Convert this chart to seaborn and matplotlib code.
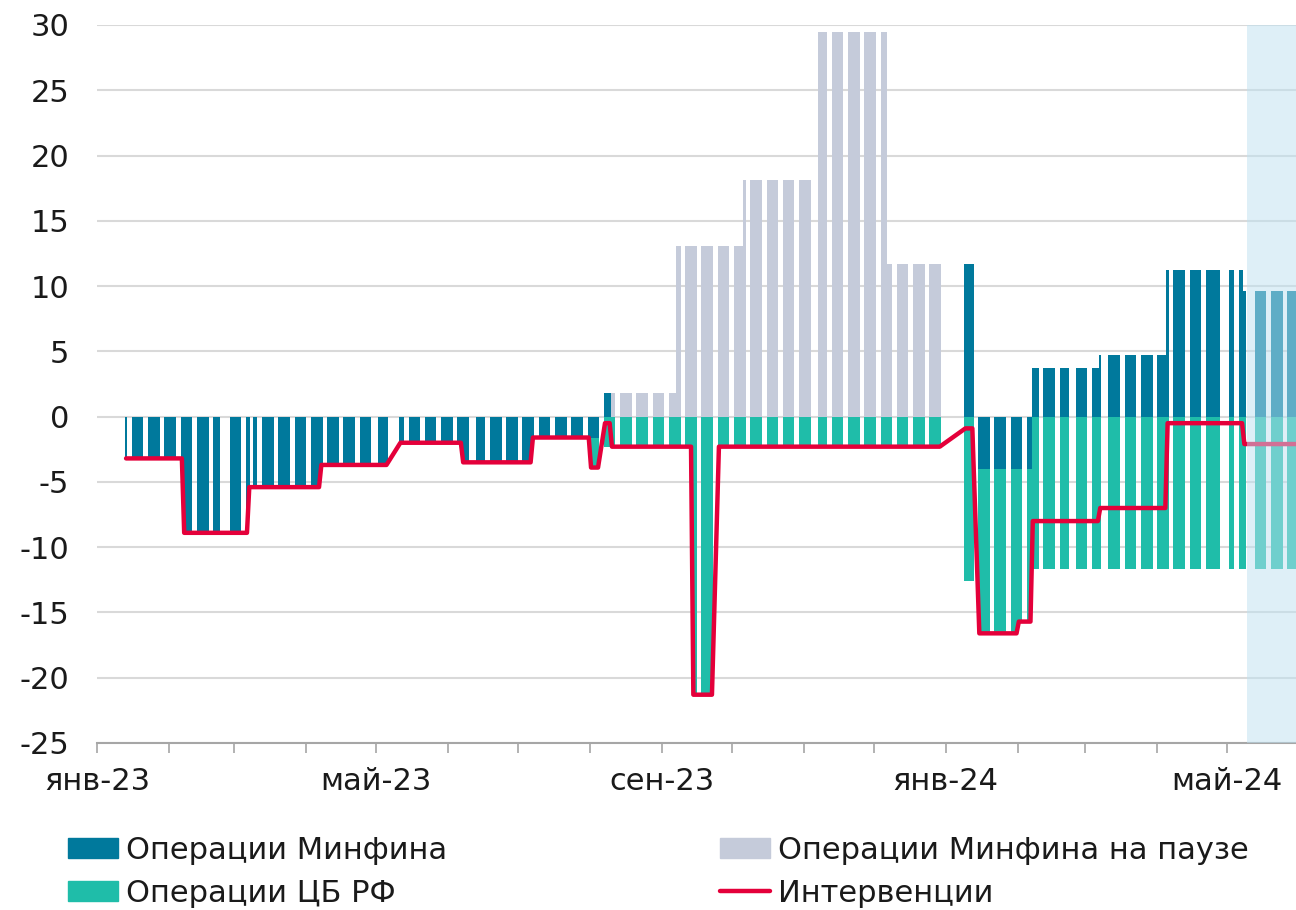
import numpy as np
import pandas as pd
import matplotlib
matplotlib.use("Agg")
import matplotlib.pyplot as plt
import matplotlib.dates as mdates
from matplotlib.patches import Patch
from matplotlib.lines import Line2D
import seaborn as sns

# periods with constant daily values (bn rub per day)
period_start = ["2023-01-13", "2023-02-07", "2023-03-07", "2023-04-07", "2023-05-11",
                "2023-06-07", "2023-07-07", "2023-08-01", "2023-08-07", "2023-08-10",
                "2023-09-07", "2023-09-14", "2023-09-25", "2023-10-06", "2023-11-07",
                "2023-12-07", "2024-01-09", "2024-01-15", "2024-02-01", "2024-02-07",
                "2024-03-07", "2024-04-05", "2024-05-08"]
period_end = ["2023-02-06", "2023-03-06", "2023-04-06", "2023-05-05", "2023-06-06",
              "2023-07-06", "2023-07-31", "2023-08-04", "2023-08-09", "2023-09-06",
              "2023-09-13", "2023-09-22", "2023-10-05", "2023-11-06", "2023-12-06",
              "2023-12-29", "2024-01-12", "2024-01-31", "2024-02-06", "2024-03-06",
              "2024-04-04", "2024-05-07", "2024-05-31"]
minfin = [-3.2, -8.9, -5.4, -3.7, -2.0, -3.5, -1.6, -1.6, 1.8, 0, 0, 0, 0, 0, 0, 0,
          11.7, -4.0, -4.0, 3.7, 4.7, 11.2, 9.6]
minfin_pause = [0, 0, 0, 0, 0, 0, 0, 0, 0, 1.8, 13.1, 13.1, 13.1, 18.1, 29.5, 11.7,
                0, 0, 0, 0, 0, 0, 0]
cbr = [0, 0, 0, 0, 0, 0, 0, -2.3, -2.3, -2.3, -2.3, -21.3, -2.3, -2.3, -2.3, -2.3,
       -12.6, -12.6, -11.7, -11.7, -11.7, -11.7, -11.7]
interventions = [-3.2, -8.9, -5.4, -3.7, -2.0, -3.5, -1.6, -3.9, -0.5, -2.3, -2.3, -21.3,
                 -2.3, -2.3, -2.3, -2.3, -0.9, -16.6, -15.7, -8.0, -7.0, -0.5, -2.1]

holidays = ["2023-02-23", "2023-02-24", "2023-03-08", "2023-05-01", "2023-05-08",
            "2023-05-09", "2023-06-12", "2023-11-06", "2024-01-01", "2024-01-02",
            "2024-01-03", "2024-01-04", "2024-01-05", "2024-01-08", "2024-02-23",
            "2024-03-08", "2024-04-29", "2024-04-30", "2024-05-01", "2024-05-09",
            "2024-05-10"]
extra_workdays = ["2024-04-27"]

forecast_start = "2024-05-09 14:00"
x_start = "2023-01-01"
x_end = "2024-05-30 17:00"

month_names = ["янв", "фев", "мар", "апр", "май", "июн",
               "июл", "авг", "сен", "окт", "ноя", "дек"]
labels = ["Операции Минфина", "Операции ЦБ РФ", "Операции Минфина на паузе", "Интервенции"]

C_MINFIN = "#00799C"
C_PAUSE = "#C5CBDA"
C_CBR = "#1FBDA9"
C_LINE = "#E4003A"

# expand periods to trading days
rows = []
for s, e, m, p, c, l in zip(period_start, period_end, minfin, minfin_pause, cbr, interventions):
    days = pd.bdate_range(s, e, freq="C", holidays=holidays)
    extra = pd.DatetimeIndex([d for d in extra_workdays if s <= d <= e])
    for d in days.union(extra):
        rows.append((d, m, p, c, l))
df = pd.DataFrame(rows, columns=["date", "minfin", "pause", "cbr", "interv"])

sns.set_theme(style="white")
plt.rcParams["font.family"] = ["DejaVu Sans"]
plt.rcParams["axes.unicode_minus"] = False

fig = plt.figure(figsize=(12.96, 9.10), dpi=100)
ax = fig.add_axes([97 / 1296, 1 - 743 / 910, 1 - 97 / 1296, (743 - 25) / 910])

x = mdates.date2num(df["date"])
ax.bar(x, df["minfin"], width=1, align="edge", color=C_MINFIN, lw=0, zorder=2)
ax.bar(x, df["pause"], width=1, align="edge", color=C_PAUSE, lw=0, zorder=2,
       bottom=np.maximum(df["minfin"], 0))
cbr_bottom = np.where(df["cbr"] < 0, np.minimum(df["minfin"], 0), np.maximum(df["minfin"], 0))
ax.bar(x, df["cbr"], width=1, align="edge", color=C_CBR, lw=0, zorder=2, bottom=cbr_bottom)

sns.lineplot(x=x + 0.5, y=df["interv"].values, ax=ax, color=C_LINE, lw=3.2, zorder=3)

ax.axvspan(mdates.datestr2num(forecast_start), mdates.datestr2num(x_end) + 5,
           color="#BFE1F1", alpha=0.5, lw=0, zorder=5)

ax.set_xlim(mdates.datestr2num(x_start), mdates.datestr2num(x_end))
ax.set_ylim(-25, 30)
ax.set_yticks(range(-25, 31, 5))
ax.yaxis.grid(True, color="#D9D9D9", lw=1.5)
ax.set_axisbelow(True)

ax.xaxis.set_major_locator(mdates.MonthLocator(bymonth=[1, 5, 9]))
ax.xaxis.set_minor_locator(mdates.MonthLocator())
ax.xaxis.set_major_formatter(plt.FuncFormatter(
    lambda v, pos: f"{month_names[mdates.num2date(v).month - 1]}-{mdates.num2date(v):%y}"))

for s in ["top", "right", "left"]:
    ax.spines[s].set_visible(False)
ax.spines["bottom"].set_color("#A6A6A6")
ax.spines["bottom"].set_linewidth(1.5)

ax.tick_params(axis="y", length=0, pad=20, labelsize=22, labelcolor="#1a1a1a")
ax.tick_params(axis="x", which="both", direction="out", length=7, width=1.2,
               color="#A6A6A6", bottom=True)
ax.tick_params(axis="x", which="major", pad=10, labelsize=22, labelcolor="#1a1a1a")
ax.set_xlabel("")
ax.set_ylabel("")

h_minfin = Patch(color=C_MINFIN)
h_cbr = Patch(color=C_CBR)
h_pause = Patch(color=C_PAUSE)
h_line = Line2D([], [], color=C_LINE, lw=3.2)

leg_kw = dict(frameon=False, fontsize=22, handlelength=1.65, handleheight=0.65,
              handletextpad=0.25, labelspacing=0.45, borderpad=0, borderaxespad=0,
              loc="upper left", labelcolor="#1a1a1a")
fig.legend([h_minfin, h_cbr], labels[:2], bbox_to_anchor=(68 / 1296, 1 - 836 / 910), **leg_kw)
fig.legend([h_pause, h_line], labels[2:], bbox_to_anchor=(720 / 1296, 1 - 836 / 910), **leg_kw)

fig.savefig("out.png", dpi=100)
